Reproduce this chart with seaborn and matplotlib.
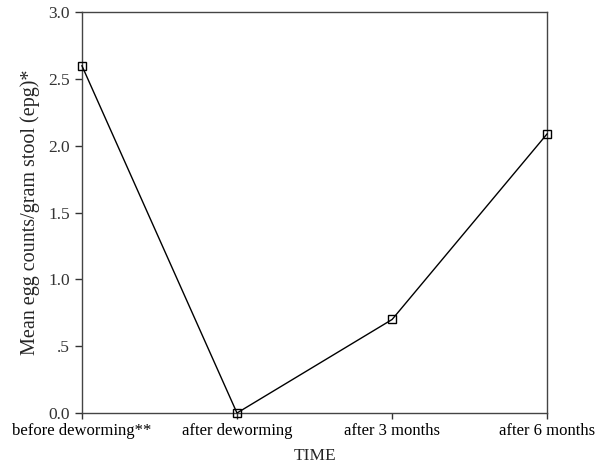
import pandas as pd
import matplotlib
matplotlib.use('Agg')
import matplotlib.pyplot as plt
import seaborn as sns

# Mean egg counts over time
time_labels = ['before deworming**', 'after deworming', 'after 3 months', 'after 6 months']
mean_epg = [2.6, 0.0, 0.7, 2.09]
y_ticks = [0.0, 0.5, 1.0, 1.5, 2.0, 2.5, 3.0]
y_tick_labels = ['0.0', '.5', '1.0', '1.5', '2.0', '2.5', '3.0']

df = pd.DataFrame({'pos': range(len(time_labels)), 'epg': mean_epg})

sns.set_style('ticks')
plt.rcParams['font.family'] = ['Liberation Serif', 'DejaVu Serif']

fig = plt.figure(figsize=(6.02, 4.68), dpi=100)
ax = fig.add_axes([0.136, 0.1175, 0.773, 0.8565])
sns.lineplot(data=df, x='pos', y='epg', ax=ax, color='black', linewidth=1,
             marker='s', markersize=6, markerfacecolor='none',
             markeredgecolor='black', markeredgewidth=1, clip_on=False, zorder=5)

ax.set_xlim(0, 3)
ax.set_ylim(0, 3)
ax.set_xticks(range(len(time_labels)))
ax.set_xticklabels(time_labels, fontsize=12)
ax.set_yticks(y_ticks)
ax.set_yticklabels(y_tick_labels, fontsize=12.5, color='#333333')
ax.tick_params(axis='both', direction='out', length=5, width=1, colors='#333333')
ax.tick_params(axis='x', labelcolor='black', length=4)
for s in ax.spines.values():
    s.set_linewidth(1)
    s.set_color('#444444')
    s.set_visible(True)

ax.set_xlabel('TIME', fontsize=12.5, labelpad=6)
ax.set_ylabel('Mean egg counts/gram stool (epg)*', fontsize=14.5, labelpad=6)

fig.savefig('out.png', dpi=100)
